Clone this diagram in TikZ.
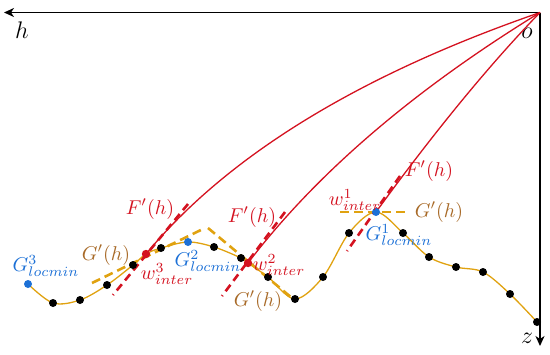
\documentclass[tikz,border=0pt]{standalone}
\usetikzlibrary{arrows.meta}
\definecolor{myred}{RGB}{212,18,32}
\definecolor{myblue}{RGB}{28,112,214}
\definecolor{mygold}{RGB}{224,162,16}
\definecolor{mybrown}{RGB}{168,106,40}
\begin{document}
\begin{tikzpicture}[x=0.5pt,y=-0.5pt,
  axis/.style={line width=0.85pt,-{Stealth[length=5pt,width=4.5pt,inset=1.5pt]}},
  fline/.style={myred,line width=0.65pt},
  gcurve/.style={mygold,line width=0.65pt},
  fdash/.style={myred,line width=1.3pt,dash pattern=on 4pt off 2.5pt},
  gdash/.style={mygold,line width=1.3pt,dash pattern=on 4.5pt off 2.5pt},
  bdot/.style={circle,fill=black,inner sep=0pt,minimum size=4pt},
  udot/.style={circle,fill=myblue,inner sep=0pt,minimum size=4pt},
  rdot/.style={circle,fill=myred,inner sep=0pt,minimum size=4.2pt},
  flab/.style={text=myred,inner sep=0pt},
  glab/.style={text=mybrown,inner sep=0pt},
  blab/.style={text=myblue,inner sep=0pt},
  alab/.style={inner sep=0pt,font=\large}]
\useasboundingbox (0,0) rectangle (550,354);
% axes
\coordinate (o) at (540,12.5);
\coordinate (hend) at (4,12.5);
\coordinate (zend) at (540,346);
\draw[axis] (o) -- (hend);
\draw[axis] (o) -- (zend);
\node[alab] (hl) at (22,30) {$h$};
\node[alab] (ol) at (527,33) {$o$};
\node[alab] (zl) at (527,338) {$z$};
% points
\coordinate (w3) at (146,254);
\coordinate (w2) at (248,263);
\coordinate (w1) at (376,212);
% red curves
\draw[fline] (o) .. controls (359,75) and (227,156) .. (w3);
\draw[fline] (o) .. controls (412,91) and (315,175) .. (w2);
\draw[fline] (o) .. controls (490,64) and (435,131) .. (w1);
% gold curve
\draw[gcurve] plot[smooth,tension=0.55] coordinates {
 (28,284) (53,303) (80,300) (107,285) (133,265) (146,254) (161,248) (188,242)
 (214,247) (241,258) (248,263) (268,277) (295,299) (323,277) (349,233) (376,212)
 (403,233) (429,257) (456,267) (483,272) (510,294) (537,322)};
% tangents
\coordinate (f3a) at (188,204); \coordinate (f3b) at (113,295);
\coordinate (f2a) at (285,212); \coordinate (f2b) at (222,296);
\coordinate (f1a) at (400,176); \coordinate (f1b) at (347,251);
\coordinate (g3a) at (92,283); \coordinate (g3b) at (205,228);
\coordinate (g2a) at (208,228); \coordinate (g2b) at (292,298);
\coordinate (g1a) at (340,212); \coordinate (g1b) at (408,212);
\draw[gdash] (g3a) -- (g3b);
\draw[gdash] (g2a) -- (g2b);
\draw[gdash] (g1a) -- (g1b);
\draw[fdash] (f3a) -- (f3b);
\draw[fdash] (f2a) -- (f2b);
\draw[fdash] (f1a) -- (f1b);
% dots
\node[udot] (G3) at (28,284) {};
\foreach \p [count=\i] in {(53,303),(80,300),(107,285),(133,265),(161,248),(214,247),(241,258),(268,277),(295,299),(323,277),(349,233),(403,233),(429,257),(456,267),(483,272),(510,294),(537,322)}
  \node[bdot] (b\i) at \p {};
\node[udot] (G2) at (188,242) {};
\node[rdot] (W3) at (w3) {};
\node[rdot] (W2) at (w2) {};
\node[udot] (G1) at (w1) {};
% labels
\node[flab] (lf3) at (150,209) {$F'(h)$};
\node[flab] (lf2) at (252,217) {$F'(h)$};
\node[flab] (lf1) at (429,171) {$F'(h)$};
\node[glab] (lg3) at (106,255) {$G'(h)$};
\node[glab] (lg2) at (258,301) {$G'(h)$};
\node[glab] (lg1) at (439,212) {$G'(h)$};
\node[flab] (lw3) at (167,274) {$w^{3}_{inter}$};
\node[flab] (lw2) at (279,265) {$w^{2}_{inter}$};
\node[flab] (lw1) at (355,200) {$w^{1}_{inter}$};
\node[blab] (lG3) at (46,266) {$G^{3}_{locmin}$};
\node[blab] (lG2) at (208,261) {$G^{2}_{locmin}$};
\node[blab] (lG1) at (399,235) {$G^{1}_{locmin}$};
\end{tikzpicture}
\end{document}
